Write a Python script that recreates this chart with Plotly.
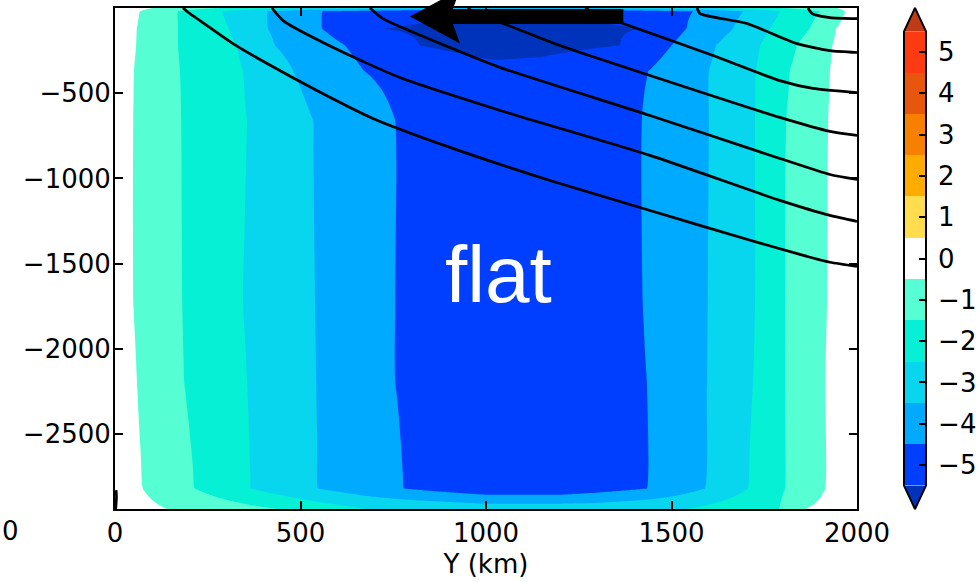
import numpy as np
import plotly.graph_objects as go

# ---------------- data ----------------
y_km_range = [0, 2000]
depth_range = [-2940, 0]

# Along-channel velocity section: for each depth row, the positions (km) where
# the velocity crosses the contour levels, with the value at each knot.
row_depth = [0, -20, -121, -220, -367, -660, -1715, -2184, -2820, -2940]
row_x = [
    [0, 67, 170, 288, 412, 558, 800, 1065, 1350, 1558, 1693, 1792, 1900, 1968, 2000],
    [0, 67, 170, 288, 412, 558, 800, 1065, 1350, 1558, 1693, 1792, 1900, 1968, 2000],
    [0, 59, 170, 307, 412, 558, 722, 1070, 1420, 1540, 1666, 1765, 1873, 1943, 2000],
    [0, 57, 170, 329, 431, 620, 822, 1030, 1360, 1500, 1620, 1739, 1838, 1933, 2000],
    [0, 51, 175, 345, 480, 670, 1000, 1150, 1439, 1601, 1728, 1819, 1927, 2000],
    [0, 49, 178, 356, 534, 755, 1000, 1200, 1420, 1601, 1725, 1809, 1922, 2000],
    [0, 49, 181, 345, 539, 755, 1000, 1200, 1423, 1598, 1725, 1806, 1919, 2000],
    [0, 59, 186, 356, 542, 755, 1000, 1200, 1434, 1596, 1720, 1806, 1914, 2000],
    [0, 75, 215, 366, 547, 778, 1000, 1200, 1434, 1590, 1706, 1806, 1914, 2000],
    [0, 140, 440, 680, 1000, 1300, 1540, 1790, 1860, 2000],
]
row_v = [
    [0, -0.3, -0.9, -1.5, -2.1, -2.7, -3.1, -3.2, -3.1, -2.7, -2.1, -1.5, -0.9, -0.3, 0],
    [0, -0.5, -1.5, -2.5, -3.5, -4.5, -5.2, -5.35, -5.2, -4.5, -3.5, -2.5, -1.5, -0.5, 0],
    [0, -0.5, -1.5, -2.5, -3.5, -4.5, -5.5, -5.9, -5.5, -4.5, -3.5, -2.5, -1.5, -0.5, 0],
    [0, -0.5, -1.5, -2.5, -3.5, -4.5, -5.5, -5.9, -5.5, -4.5, -3.5, -2.5, -1.5, -0.5, 0],
    [0, -0.5, -1.5, -2.5, -3.5, -4.5, -5.2, -5.2, -4.5, -3.5, -2.5, -1.5, -0.5, 0],
    [0, -0.5, -1.5, -2.5, -3.5, -4.5, -5.2, -5.2, -4.5, -3.5, -2.5, -1.5, -0.5, 0],
    [0, -0.5, -1.5, -2.5, -3.5, -4.5, -5.2, -5.2, -4.5, -3.5, -2.5, -1.5, -0.5, 0],
    [0, -0.5, -1.5, -2.5, -3.5, -4.5, -5.2, -5.2, -4.5, -3.5, -2.5, -1.5, -0.5, 0],
    [0, -0.5, -1.5, -2.5, -3.5, -4.5, -5.2, -5.2, -4.5, -3.5, -2.5, -1.5, -0.5, 0],
    [0, -0.5, -1.5, -2.5, -2.9, -2.9, -2.5, -1.5, -0.5, 0],
]

# Isopycnals (km, m)
iso_x = [
    [183, 202, 229, 318, 410, 544, 695, 903, 1172, 1442, 1712, 1846, 1927, 2000],
    [423, 453, 588, 768, 1038, 1442, 1792, 1927, 2000],
    [687, 722, 903, 1038, 1442, 1792, 1927, 2000],
    [951, 984, 1046, 1199, 1442, 1792, 1927, 2000],
    [1267, 1307, 1369, 1612, 1792, 1881, 2000],
    [1569, 1577, 1703, 1838, 1927, 2000],
    [1868, 1879, 1927, 2000],
    [2, 4, 3],
]
iso_z = [
    [0, -33, -74, -209, -326, -484, -648, -818, -1012, -1188, -1363, -1446, -1492, -1516],
    [0, -74, -232, -408, -601, -865, -1129, -1217, -1252],
    [0, -62, -232, -349, -631, -883, -977, -1006],
    [0, -50, -91, -220, -396, -642, -724, -748],
    [0, -45, -91, -279, -426, -472, -496],
    [0, -33, -91, -209, -250, -261],
    [0, -33, -56, -62],
    [-2940, -2870, -2829],
]

x_ticks = [0, 500, 1000, 1500, 2000]
y_ticks = [-2500, -2000, -1500, -1000, -500]
cbar_levels = list(range(-5, 6))

# wind-stress arrow (km along the section, depth in m)
arrow_tail_x, arrow_tip_x, arrow_depth = 1370, 795, -50
label_x, label_z = 1034, -1563

# ---------------- styles ----------------
band_colors = ['#0033bb', '#003fff', '#00aaff', '#08d5ee', '#05f0d5', '#55ffd3',
               '#ffffff', '#ffdd4f', '#ffab00', '#f88000', '#e8560e', '#fd3a12', '#bf3a17']
n = len(band_colors)
colorscale = []
for k, c in enumerate(band_colors):
    colorscale.append([max(0.0, (k - 0.5) / (n - 1)), c])
    colorscale.append([min(1.0, (k + 0.5) / (n - 1)), c])

W, H = 980, 582
ML, MR, MT, MB = 115, 10, 6, 71
PW, PH = W - ML - MR, H - MT - MB
main_xdom = [0, 742 / PW]
main_ydom = [2 / PH, (PH - 2) / PH]
cb_xdom = [(904 - 1.1 - ML) / PW, (926 + 1.1 - ML) / PW]
FONT = 'DejaVu Sans'
FS = 26

# ---------------- field grid ----------------
order = np.argsort(row_depth)
xg = np.linspace(0, 2000, 401)
zg = np.array(row_depth, dtype=float)[order]
field = np.array([np.interp(xg, row_x[i], row_v[i]) for i in order])

fig = go.Figure()
fig.add_trace(go.Contour(
    x=xg, y=zg, z=field,
    autocontour=False,
    contours=dict(start=-5.5, end=5.5, size=1, coloring='fill', showlines=False),
    line=dict(width=0),
    colorscale=colorscale, showscale=False, hoverinfo='skip',
))

for xs, zs in zip(iso_x, iso_z):
    fig.add_trace(go.Scatter(
        x=xs, y=zs, mode='lines',
        line=dict(color='black', width=2.7, shape='spline', smoothing=0.6),
        hoverinfo='skip', showlegend=False,
    ))

# colour bar built on its own small axes
cb_edges = [v - 0.5 for v in cbar_levels] + [cbar_levels[-1] + 0.5]
fig.add_trace(go.Heatmap(
    x=[-0.5, 0.5], y=cb_edges, z=[[v] for v in cbar_levels],
    zmin=-6, zmax=6, colorscale=colorscale, showscale=False,
    xaxis='x2', yaxis='y2', hoverinfo='skip',
))
top_edge, bot_edge, tip = cb_edges[-1], cb_edges[0], 6.07
fig.add_trace(go.Scatter(
    x=[-0.5, 0.5, 0, -0.5], y=[top_edge, top_edge, tip, top_edge],
    fill='toself', fillcolor=band_colors[-1], mode='none',
    xaxis='x2', yaxis='y2', hoverinfo='skip', showlegend=False,
))
fig.add_trace(go.Scatter(
    x=[-0.5, 0.5, 0, -0.5], y=[bot_edge, bot_edge, -tip, bot_edge],
    fill='toself', fillcolor=band_colors[0], mode='none',
    xaxis='x2', yaxis='y2', hoverinfo='skip', showlegend=False,
))
fig.add_trace(go.Scatter(
    x=[-0.5, -0.5, 0, 0.5, 0.5, 0, -0.5],
    y=[bot_edge, top_edge, tip, top_edge, bot_edge, -tip, bot_edge],
    mode='lines', line=dict(color='black', width=2),
    xaxis='x2', yaxis='y2', hoverinfo='skip', showlegend=False,
))

# ---------------- arrow (paper coordinates) ----------------
def to_paper(xkm, py_off=0.0, px_off=0.0, z=arrow_depth):
    px = ML + xkm / 2000 * 742 + px_off
    py = MT + 2 + (-z) / 2940 * 501 + py_off
    return (px - ML) / PW, (MT + PH - py) / PH

pts = [
    to_paper(arrow_tip_x),
    to_paper(arrow_tip_x, -27, 50),
    to_paper(arrow_tip_x, -7.5, 43),
    to_paper(arrow_tail_x, -7.5),
    to_paper(arrow_tail_x, 7.5),
    to_paper(arrow_tip_x, 7.5, 43),
    to_paper(arrow_tip_x, 27, 50),
]
path = 'M' + ' L'.join(f'{a:.5f},{b:.5f}' for a, b in pts) + ' Z'
fig.add_shape(type='path', path=path, xref='paper', yref='paper',
              fillcolor='black', line=dict(width=0), layer='above')

fig.add_annotation(x=label_x, y=label_z, xref='x', yref='y', text='flat',
                   showarrow=False,
                   font=dict(family='Liberation Sans, Arial', size=80, color='white'))
fig.add_annotation(x=(10 - ML) / PW, y=(MT + PH - 531) / PH, xref='paper', yref='paper',
                   text='0', showarrow=False, xanchor='center', yanchor='middle',
                   font=dict(family=FONT, size=FS, color='black'))

axis_common = dict(showgrid=False, zeroline=False, showline=True, linecolor='black',
                   linewidth=2, mirror='ticks', ticks='inside', ticklen=8,
                   tickwidth=1.5, tickcolor='black', automargin=False,
                   tickfont=dict(family=FONT, size=FS, color='black'))

fig.update_layout(
    width=W, height=H, autosize=False,
    margin=dict(l=ML, r=MR, t=MT, b=MB, pad=0, autoexpand=False),
    paper_bgcolor='white', plot_bgcolor='white',
    showlegend=False,
    xaxis=dict(domain=main_xdom, range=y_km_range, tickvals=x_ticks,
               ticktext=[str(v) for v in x_ticks], ticklabelstandoff=0,
               title=dict(text='Y (km)', font=dict(family=FONT, size=FS, color='black'),
                          standoff=8),
               **axis_common),
    yaxis=dict(domain=main_ydom, range=depth_range, tickvals=y_ticks,
               ticktext=['\u2212' + str(-v) for v in y_ticks], ticklabelstandoff=-3,
               **axis_common),
    xaxis2=dict(domain=cb_xdom, range=[-0.55, 0.55], visible=False, anchor='y2',
                automargin=False),
    yaxis2=dict(domain=[0, 1], range=[-6.114, 6.114], anchor='x2', side='right',
                tickvals=cbar_levels,
                ticktext=[('\u2212' + str(-v)) if v < 0 else str(v) for v in cbar_levels],
                ticks='inside', ticklen=8, tickwidth=1.5, tickcolor='black',
                showline=False, showgrid=False, zeroline=False, ticklabelstandoff=10,
                automargin=False,
                tickfont=dict(family=FONT, size=FS, color='black')),
)

fig.write_html('out.html')
